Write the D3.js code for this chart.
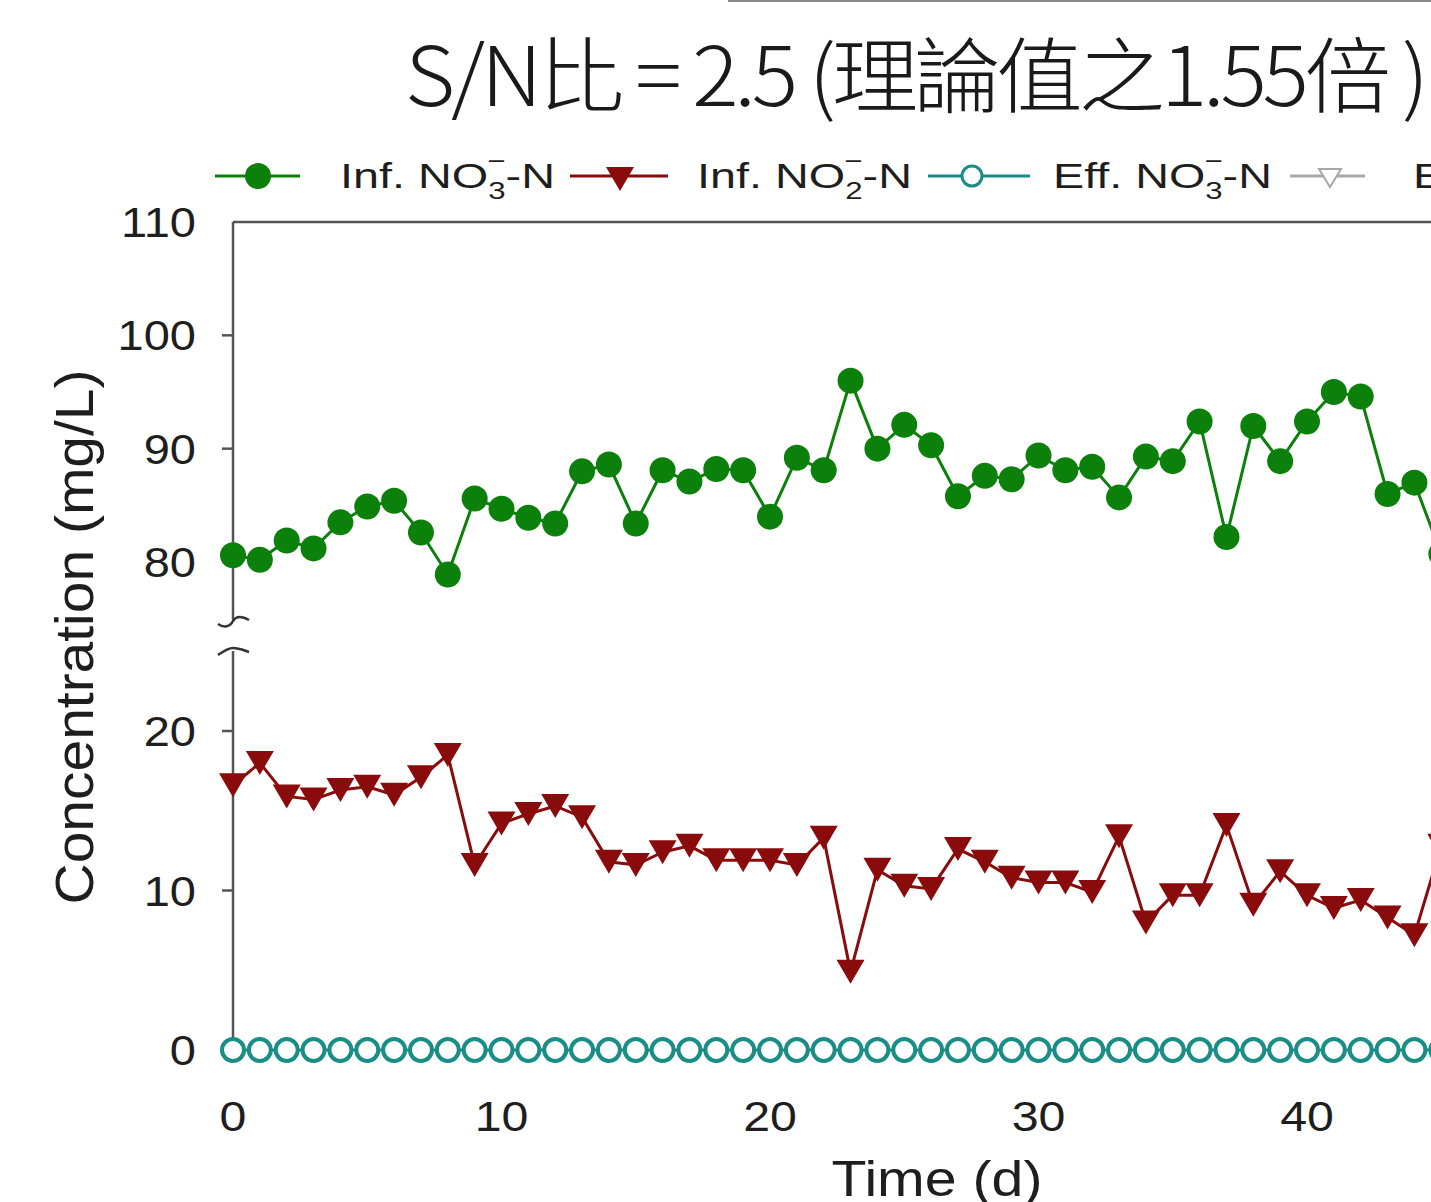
<!DOCTYPE html>
<html>
<head>
<meta charset="utf-8">
<script src="https://cdn.jsdelivr.net/npm/d3@7"></script>
<style>
  html, body { margin: 0; padding: 0; background: #fff; overflow: hidden; }
  text { font-family: "Liberation Sans", Arial, sans-serif; fill: #1e1e1e; }
</style>
</head>
<body>
<div id="chart"></div>
<script>
// Data
const days = [0, 1, 2, 3, 4, 5, 6, 7, 8, 9, 10, 11, 12, 13, 14, 15, 16, 17, 18, 19, 20, 21, 22,
  23, 24, 25, 26, 27, 28, 29, 30, 31, 32, 33, 34, 35, 36, 37, 38, 39, 40, 41, 42, 43, 44, 45];
const infNO3 = [80.6, 80.2, 81.9, 81.2, 83.5, 84.9, 85.4, 82.6, 78.9, 85.6, 84.7, 83.9, 83.4, 88.0,
  88.6, 83.4, 88.1, 87.1, 88.2, 88.1, 84.0, 89.2, 88.1, 96.0, 90.0, 92.1, 90.3, 85.8, 87.6, 87.3,
  89.4, 88.1, 88.4, 85.7, 89.3, 88.9, 92.4, 82.2, 92.0, 88.9, 92.4, 95.0, 94.6, 86.0, 87.0, 80.7];
const infNO2 = [16.6, 18.0, 15.9, 15.7, 16.3, 16.5, 16.0, 17.1, 18.5, 11.6, 14.2, 14.8, 15.3, 14.6,
  11.8, 11.6, 12.4, 12.8, 11.9, 11.9, 11.9, 11.6, 13.3, 4.9, 11.3, 10.3, 10.1, 12.6, 11.8, 10.8,
  10.5, 10.5, 9.9, 13.4, 8.0, 9.7, 9.7, 14.1, 9.1, 11.2, 9.7, 8.9, 9.4, 8.3, 7.2, 12.8];
const effNO3 = [0, 0, 0, 0, 0, 0, 0, 0, 0, 0, 0, 0, 0, 0, 0, 0, 0, 0, 0, 0, 0, 0, 0,
  0, 0, 0, 0, 0, 0, 0, 0, 0, 0, 0, 0, 0, 0, 0, 0, 0, 0, 0, 0, 0, 0, 0];

const xTicks = [0, 10, 20, 30, 40, 50];
const yUpperTicks = [80, 90, 100, 110];
const yLowerTicks = [0, 10, 20];

const TITLE = 'S/N比 = 2.5 (理論值之1.55倍 )';
const legendItems = [
  { pre: 'Inf. NO', sub: '3', post: '-N', color: '#0b800b', mark: 'dot' },
  { pre: 'Inf. NO', sub: '2', post: '-N', color: '#8a0b0b', mark: 'tri' },
  { pre: 'Eff. NO', sub: '3', post: '-N', color: '#1a8d86', mark: 'ring' },
  { pre: 'Eff. NO', sub: '2', post: '-N', color: '#a8a8a8', mark: 'openTri' }
];

// Dimensions
const WIDTH = 1431;
const HEIGHT = 1202;
const AXIS_X = 233;

const svg = d3.select('#chart')
  .append('svg')
  .attr('width', WIDTH)
  .attr('height', HEIGHT);

// Scales
const x = d3.scaleLinear().domain([0, 50]).range([AXIS_X, AXIS_X + 50 * 26.85]);
const yUp = d3.scaleLinear().domain([80, 110]).range([562, 222]);
const yLow = d3.scaleLinear().domain([0, 20]).range([1050, 731]);

// squeeze/stretch a text horizontally so it covers a given width
function fitWidth(textSel, w) {
  const bw = textSel.node().getBBox().width;
  textSel.attr('transform', `scale(${w / bw},1)`);
}

const triDown = (hw, hh) => `M${-hw},${-hh}L${hw},${-hh}L0,${hh}Z`;

// stray frame line at the top edge
svg.append('line')
  .attr('x1', 728).attr('x2', WIDTH).attr('y1', 1).attr('y2', 1)
  .attr('stroke', '#8a8a8a').attr('stroke-width', 2);

// Title
const tg = svg.append('g').attr('transform', 'translate(915,106)');
const title = tg.append('text')
  .attr('text-anchor', 'middle')
  .style('font-family', '"Noto Sans CJK TC", "Noto Sans CJK SC", sans-serif')
  .style('font-size', '82px')
  .style('font-weight', 300)
  .style('letter-spacing', '-4px')
  .style('fill', '#1a1a1a')
  .text(TITLE);
fitWidth(title, 1020);

// Legend
const legendLayout = [
  { x1: 215, x2: 300, mx: 258, tx: 340, tw: 215 },
  { x1: 570, x2: 668, mx: 620, tx: 697, tw: 215 },
  { x1: 928, x2: 1030, mx: 972, tx: 1053, tw: 219 },
  { x1: 1290, x2: 1365, mx: 1330, tx: 1413, tw: 219 }
];
const LEG_Y = 176;
legendItems.forEach((item, i) => {
  const L = legendLayout[i];
  svg.append('line')
    .attr('x1', L.x1).attr('x2', L.x2).attr('y1', LEG_Y).attr('y2', LEG_Y)
    .attr('stroke', item.color).attr('stroke-width', 3);
  if (item.mark === 'dot') {
    svg.append('circle').attr('cx', L.mx).attr('cy', LEG_Y).attr('r', 13).attr('fill', item.color);
  } else if (item.mark === 'tri') {
    svg.append('path').attr('d', triDown(14, 12))
      .attr('transform', `translate(${L.mx},${LEG_Y + 3})`).attr('fill', item.color);
  } else if (item.mark === 'ring') {
    svg.append('circle').attr('cx', L.mx).attr('cy', LEG_Y).attr('r', 10)
      .attr('fill', '#fff').attr('stroke', item.color).attr('stroke-width', 3);
  } else {
    svg.append('path').attr('d', triDown(11, 9))
      .attr('transform', `translate(${L.mx},${LEG_Y + 2})`)
      .attr('fill', '#fff').attr('stroke', item.color).attr('stroke-width', 2);
  }
  const g = svg.append('g').attr('transform', `translate(${L.tx},${LEG_Y + 12})`);
  const t = g.append('text').style('font-size', '36px');
  t.append('tspan').text(item.pre);
  t.append('tspan').attr('dy', 11).style('font-size', '24px').text(item.sub);
  t.append('tspan').attr('dx', -14).attr('dy', -30).style('font-size', '24px').text('\u2212');
  t.append('tspan').attr('dy', 19).text(item.post);
  fitWidth(t, L.tw);
});

// Axes frame
const axisColor = '#555';
svg.append('line')
  .attr('x1', AXIS_X).attr('x2', WIDTH).attr('y1', yUp(110)).attr('y2', yUp(110))
  .attr('stroke', axisColor).attr('stroke-width', 2.5);
svg.append('line')
  .attr('x1', AXIS_X).attr('x2', AXIS_X).attr('y1', yUp(110)).attr('y2', 620)
  .attr('stroke', axisColor).attr('stroke-width', 2.5);
svg.append('line')
  .attr('x1', AXIS_X).attr('x2', AXIS_X).attr('y1', 651).attr('y2', yLow(0))
  .attr('stroke', axisColor).attr('stroke-width', 2.5);

// break marks
svg.append('path')
  .attr('d', 'M218,624 C224,628 230,627 233,621 C236,616 242,616 249,620')
  .attr('fill', 'none').attr('stroke', '#333').attr('stroke-width', 2.5);
svg.append('path')
  .attr('d', 'M218,655 C224,651 228,648 233,648 C239,648 243,650 249,652')
  .attr('fill', 'none').attr('stroke', '#333').attr('stroke-width', 2.5);

// y ticks and labels
const tickFont = '42px';
function yTick(val, scale) {
  const y = scale(val);
  if (val !== 110) {
    svg.append('line')
      .attr('x1', AXIS_X - 11).attr('x2', AXIS_X).attr('y1', y).attr('y2', y)
      .attr('stroke', axisColor).attr('stroke-width', 2.5);
  }
  const g = svg.append('g').attr('transform', `translate(196,${y + 15})`);
  g.append('text').attr('text-anchor', 'end').style('font-size', tickFont)
    .attr('transform', 'scale(1.12,1)').text(val);
}
yUpperTicks.forEach(v => yTick(v, yUp));
yLowerTicks.forEach(v => yTick(v, yLow));

// x tick labels
xTicks.forEach(v => {
  const g = svg.append('g').attr('transform', `translate(${x(v)},${1131})`);
  g.append('text').attr('text-anchor', 'middle').style('font-size', tickFont)
    .attr('transform', 'scale(1.15,1)').text(v);
});

// axis titles
const xt = svg.append('g').attr('transform', 'translate(937,1196)')
  .append('text').attr('text-anchor', 'middle').style('font-size', '50px').text('Time (d)');
fitWidth(xt, 211);

const yt = svg.append('g').attr('transform', 'translate(93,637) rotate(-90)')
  .append('text').attr('text-anchor', 'middle').style('font-size', '54px')
  .text('Concentration (mg/L)');
fitWidth(yt, 535);

// Series
const plot = svg.append('g');

const lineUp = d3.line().x((d, i) => x(days[i])).y(d => yUp(d));
const lineLow = d3.line().x((d, i) => x(days[i])).y(d => yLow(d));

// effluent nitrate (all at zero)
plot.append('path').datum(effNO3).attr('d', lineLow)
  .attr('fill', 'none').attr('stroke', legendItems[2].color).attr('stroke-width', 3);
plot.selectAll('.eff').data(effNO3).enter().append('circle')
  .attr('class', 'eff')
  .attr('cx', (d, i) => x(days[i])).attr('cy', d => yLow(d)).attr('r', 11)
  .attr('fill', '#fff').attr('stroke', legendItems[2].color).attr('stroke-width', 4);

// influent nitrite
plot.append('path').datum(infNO2).attr('d', lineLow)
  .attr('fill', 'none').attr('stroke', legendItems[1].color).attr('stroke-width', 3);
plot.selectAll('.no2').data(infNO2).enter().append('path')
  .attr('class', 'no2')
  .attr('d', triDown(14, 12))
  .attr('transform', (d, i) => `translate(${x(days[i])},${yLow(d)})`)
  .attr('fill', legendItems[1].color);

// influent nitrate
plot.append('path').datum(infNO3).attr('d', lineUp)
  .attr('fill', 'none').attr('stroke', legendItems[0].color).attr('stroke-width', 3);
plot.selectAll('.no3').data(infNO3).enter().append('circle')
  .attr('class', 'no3')
  .attr('cx', (d, i) => x(days[i])).attr('cy', d => yUp(d)).attr('r', 13)
  .attr('fill', legendItems[0].color);
</script>
</body>
</html>
